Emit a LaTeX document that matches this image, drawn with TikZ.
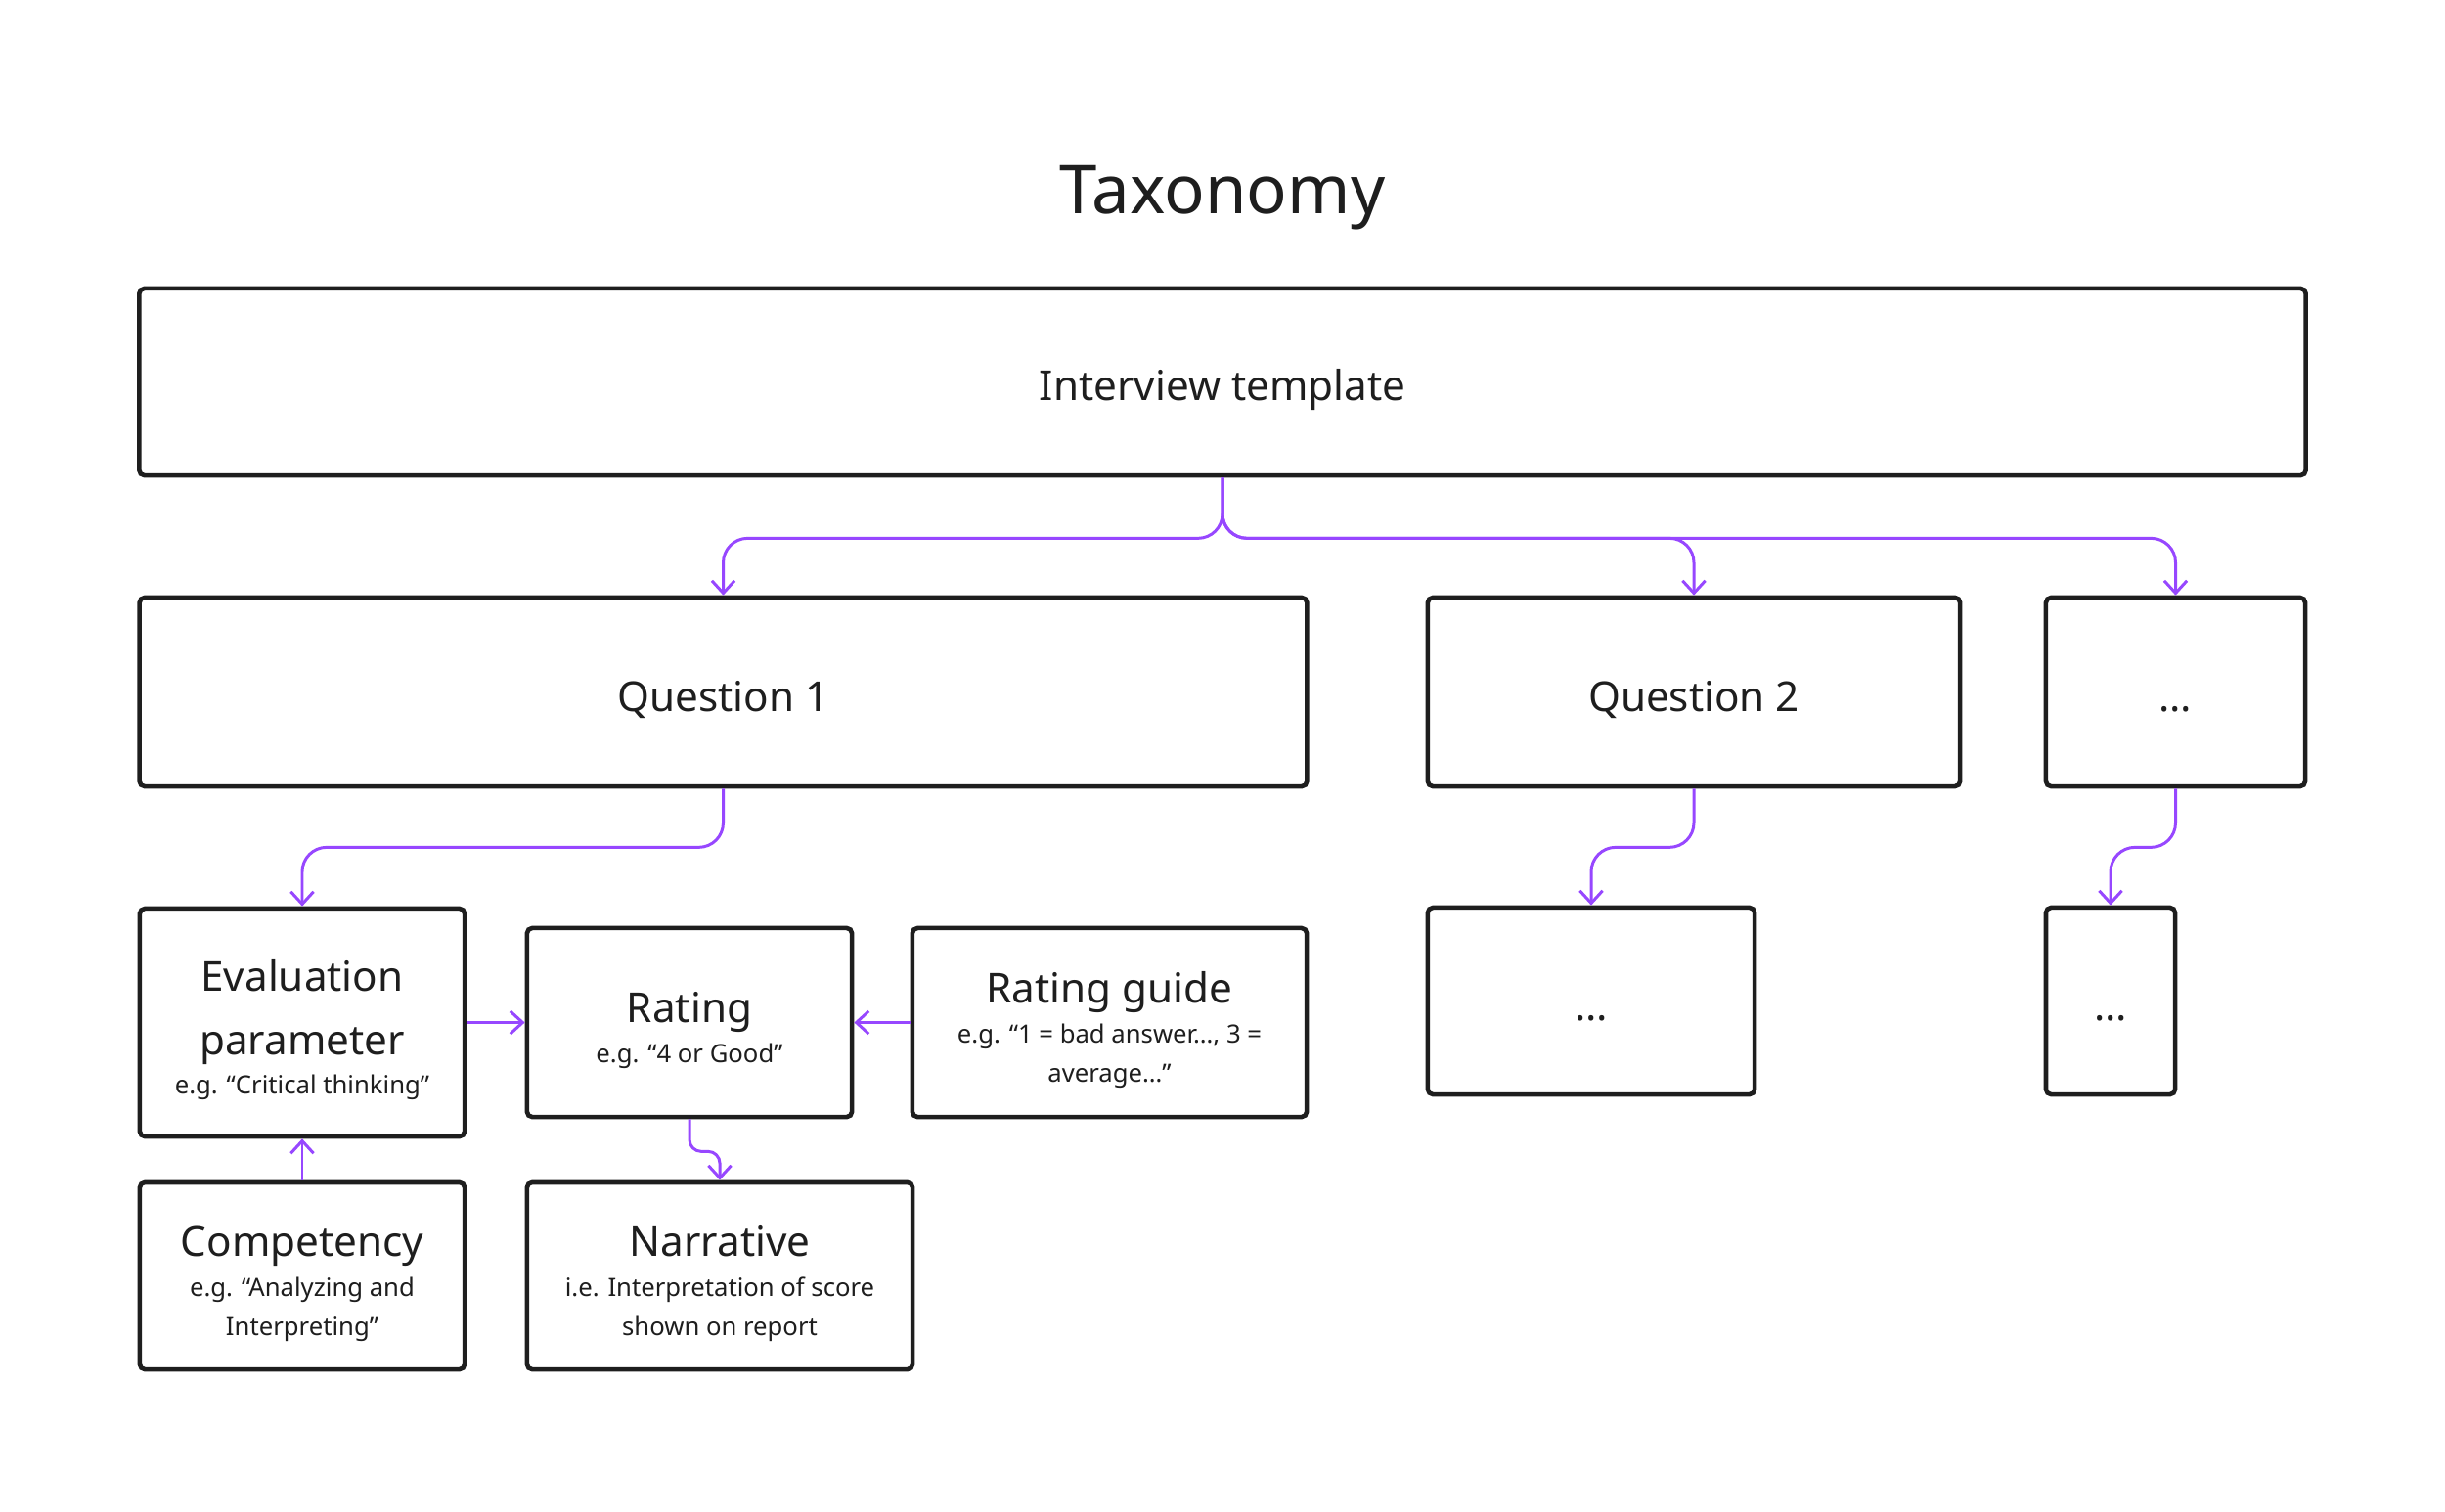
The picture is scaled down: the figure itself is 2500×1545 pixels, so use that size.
\documentclass[tikz,border=0pt]{standalone}
\usepackage{fontspec}
\setmainfont{Noto Sans}
\usetikzlibrary{arrows.meta}

\definecolor{ink}{HTML}{1E1E1E}
\definecolor{linkpurple}{HTML}{9747FF}

\newcommand\titletxt{\fontsize{19.6}{24}\selectfont}
\newcommand\headtxt{\fontsize{12}{18.5}\selectfont}
\newcommand\subtxt{\fontsize{7.3}{11.4}\selectfont}
\newcommand\topgap{\rule{0pt}{13.5pt}}

\begin{document}
\begin{tikzpicture}[x=0.01cm, y=-0.01cm,
    box/.style={draw=ink, line width=1.3pt, rounded corners=1.5pt, align=center,
                text=ink, inner sep=0pt, font=\headtxt},
    link/.style={draw=linkpurple, line width=0.85pt, rounded corners=0.25cm,
                 -{Straight Barb[length=3.6pt, width=6.6pt, line width=0.85pt]}}]
    \useasboundingbox (0,0) rectangle (2500,1545);
    \fill[white] (0,0) rectangle (2500,1545);

    % --- TITLE ---
    \node[text=ink, font=\titletxt] (title) at (1250,202) {Taxonomy};

    % --- TEMPLATE AND QUESTIONS ---
    \node[box, minimum width=22.14cm, minimum height=1.91cm] (tmpl) at (1250,390.5) {\topgap Interview template};
    \node[box, minimum width=11.93cm, minimum height=1.93cm] (q1) at (739.5,707.5) {\topgap Question 1};
    \node[box, minimum width=5.44cm, minimum height=1.93cm] (q2) at (1732,707.5) {\topgap Question 2};
    \node[box, minimum width=2.65cm, minimum height=1.93cm] (qmore) at (2224.5,707.5) {\topgap\vphantom{Q}…};

    % --- PARTS OF QUESTION 1 ---
    \node[box, minimum width=3.32cm, minimum height=2.33cm] (eval) at (309,1045.5)
        {\topgap Evaluation\\ parameter\\[-7pt] \subtxt e.g. “Critical thinking”};
    \node[box, minimum width=3.32cm, minimum height=1.93cm] (rating) at (705,1045.5)
        {\topgap Rating\\[-7pt] \subtxt e.g. “4 or Good”};
    \node[box, minimum width=4.03cm, minimum height=1.93cm] (guide) at (1134.5,1045.5)
        {\topgap Rating guide\\[-7pt] \subtxt e.g. “1 = bad answer…, 3 =\\[-7pt] \subtxt average…”};
    \node[box, minimum width=3.32cm, minimum height=1.91cm] (comp) at (309,1304.5)
        {\topgap Competency\\[-7pt] \subtxt e.g. “Analyzing and\\[-7pt] \subtxt Interpreting”};
    \node[box, minimum width=3.94cm, minimum height=1.91cm] (narr) at (736,1304.5)
        {\topgap Narrative\\[-7pt] \subtxt i.e. Interpretation of score\\[-7pt] \subtxt shown on report};

    % --- PARTS OF THE OTHER QUESTIONS ---
    \node[box, minimum width=3.34cm, minimum height=1.91cm] (q2sub) at (1627,1023.5) {\topgap\vphantom{Q}…};
    \node[box, minimum width=1.32cm, minimum height=1.91cm] (moresub) at (2158,1023.5) {\topgap\vphantom{Q}…};

    % --- CONNECTORS ---
    \draw[link] (tmpl.south) -- ++(0,62) -| (q1.north);
    \draw[link] (tmpl.south) -- ++(0,62) -| (q2.north);
    \draw[link] (tmpl.south) -- ++(0,62) -| (qmore.north);
    \draw[link] (q1.south) -- ++(0,60) -| (eval.north);
    \draw[link] (q2.south) -- ++(0,60) -| (q2sub.north);
    \draw[link] (qmore.south) -- ++(0,60) -| (moresub.north);
    \draw[link] (eval.east) -- (rating.west);
    \draw[link] (guide.west) -- (rating.east);
    \draw[link] (comp.north) -- (eval.south);
    \draw[link, rounded corners=0.12cm] (rating.south) -- ++(0,33) -| (narr.north);
\end{tikzpicture}
\end{document}
